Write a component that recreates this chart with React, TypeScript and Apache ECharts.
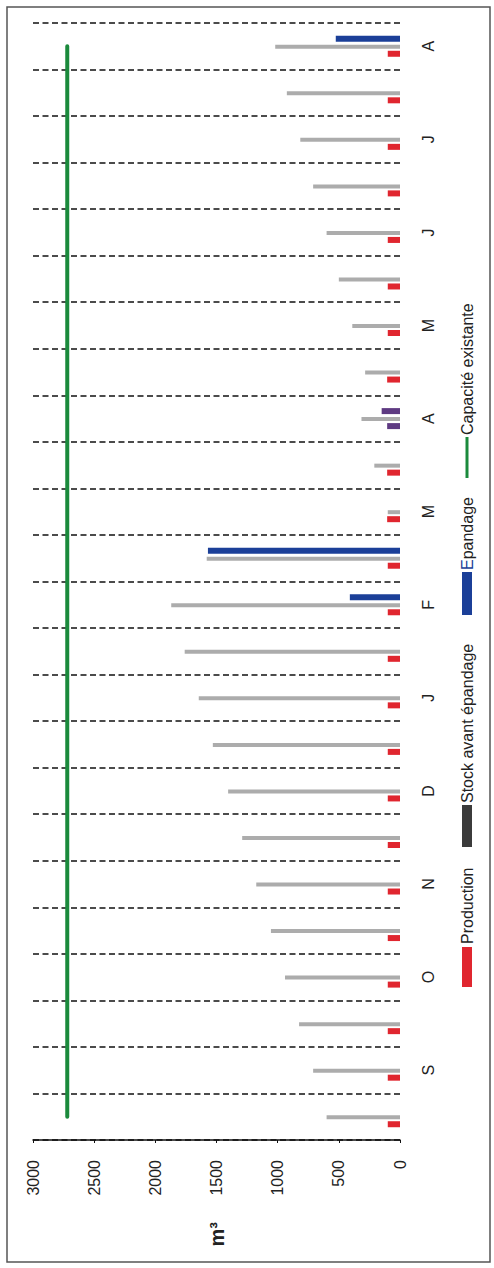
import React, { useEffect, useRef } from 'react';
import * as echarts from 'echarts';

const categories = ['', 'S', '', 'O', '', 'N', '', 'D', '', 'J', '', 'F', '', 'M', '', 'A', '', 'M', '', 'J', '', 'J', '', 'A'];
const stock = [600, 710, 825, 940, 1055, 1175, 1290, 1405, 1530, 1645, 1760, 1870, 1580, 100, 210, 315, 285, 390, 500, 600, 710, 815, 925, 1020];
const epandage = [null, null, null, null, null, null, null, null, null, null, null, 410, 1570, null, null, 150, null, null, null, null, null, null, null, 525];
const production = [100, 100, 100, 100, 100, 100, 100, 100, 100, 100, 100, 100, 100, 105, 105, 105, 105, 100, 100, 100, 100, 100, 100, 100];
const capacity = [2720, 2720, 2720, 2720, 2720, 2720, 2720, 2720, 2720, 2720, 2720, 2720, 2720, 2720, 2720, 2720, 2720, 2720, 2720, 2720, 2720, 2720, 2720, 2720];
const valueTicks = { min: 0, max: 3000, interval: 500 };
const legendNames = ['Production', 'Stock avant épandage', 'Epandage', 'Capacité existante'];
const mixedIndex = 15;

const FONT = '"Liberation Sans", Arial, sans-serif';
const RED = '#e0262f';
const GRAY = '#acacac';
const BLUE = '#1b3f98';
const PURPLE = '#5e3a82';
const GREEN = '#1b8a3c';

export default function App() {
  const ref = useRef<HTMLDivElement>(null);
  useEffect(() => {
    if (!ref.current) return;
    const chart = echarts.init(ref.current, null, { renderer: 'svg' });
    const txt = { fontFamily: FONT, fontSize: 16, fill: '#222', verticalAlign: 'middle' as const };
    chart.setOption({
      animation: false,
      backgroundColor: '#fff',
      grid: { left: 33, right: 94, top: 23, bottom: 128, containLabel: false },
      xAxis: {
        type: 'value',
        inverse: true,
        min: valueTicks.min,
        max: valueTicks.max,
        interval: valueTicks.interval,
        position: 'bottom',
        axisLine: { show: true, lineStyle: { color: '#111', width: 1.5 } },
        axisTick: { show: true, length: 3, lineStyle: { color: '#111' } },
        axisLabel: {
          rotate: 90,
          margin: 20,
          fontSize: 16,
          color: '#222',
          fontFamily: FONT,
          formatter: (v: number) => String(v),
        },
        splitLine: { show: false },
        name: 'm³',
        nameLocation: 'middle',
        nameRotate: 90,
        nameGap: 82,
        nameTextStyle: { fontWeight: 'bold', fontSize: 20, color: '#222', fontFamily: FONT },
      },
      yAxis: {
        type: 'category',
        data: categories,
        position: 'right',
        axisLine: { show: false },
        axisTick: { show: false },
        axisLabel: { interval: 0, rotate: 90, margin: 20, fontSize: 16, color: '#222', fontFamily: FONT },
        splitLine: { show: true, interval: 0, lineStyle: { color: '#111', width: 1.6, type: [6, 3.5] } },
      },
      series: [
        {
          name: legendNames[2],
          type: 'bar',
          data: epandage,
          barWidth: 6,
          barGap: '50%',
          itemStyle: { color: (p: any) => (p.dataIndex === mixedIndex ? PURPLE : BLUE) },
        },
        {
          name: legendNames[1],
          type: 'bar',
          data: stock,
          barWidth: 4,
          barGap: '50%',
          itemStyle: { color: GRAY },
        },
        {
          name: legendNames[0],
          type: 'bar',
          data: production,
          barWidth: 6,
          barGap: '50%',
          itemStyle: { color: (p: any) => (p.dataIndex === mixedIndex ? PURPLE : RED) },
        },
        {
          name: legendNames[3],
          type: 'line',
          data: capacity,
          symbol: 'none',
          lineStyle: { color: GREEN, width: 4, cap: 'round' },
        },
      ],
      graphic: [
        {
          type: 'rect',
          shape: { x: 7, y: 7, width: 483, height: 1255 },
          style: { fill: 'none', stroke: '#555', lineWidth: 1.5 },
          silent: true,
        },
        {
          type: 'group',
          x: 467,
          y: 987,
          rotation: Math.PI / 2,
          children: [
            { type: 'rect', shape: { x: 0, y: -5, width: 40, height: 10 }, style: { fill: RED } },
            { type: 'text', x: 43, y: 0, style: { ...txt, text: legendNames[0] } },
            { type: 'rect', shape: { x: 140, y: -5, width: 42, height: 10 }, style: { fill: '#3b3b3b' } },
            { type: 'text', x: 184, y: 0, style: { ...txt, text: legendNames[1] } },
            { type: 'rect', shape: { x: 372, y: -5, width: 43, height: 10 }, style: { fill: BLUE } },
            {
              type: 'text',
              x: 417,
              y: 0,
              style: {
                ...txt,
                text: '{e|E}{r|' + legendNames[2].slice(1) + '}',
                rich: {
                  e: { fill: BLUE, fontFamily: FONT, fontSize: 16 },
                  r: { fill: '#222', fontFamily: FONT, fontSize: 16 },
                },
              },
            },
            { type: 'line', shape: { x1: 509, y1: 0, x2: 550, y2: 0 }, style: { stroke: GREEN, lineWidth: 3 } },
            { type: 'text', x: 552, y: 0, style: { ...txt, text: legendNames[3] } },
          ],
        },
      ],
    });
    return () => chart.dispose();
  }, []);
  return <div ref={ref} style={{ position: 'absolute', left: 0, top: 0, width: 494, height: 1268 }} />;
}
